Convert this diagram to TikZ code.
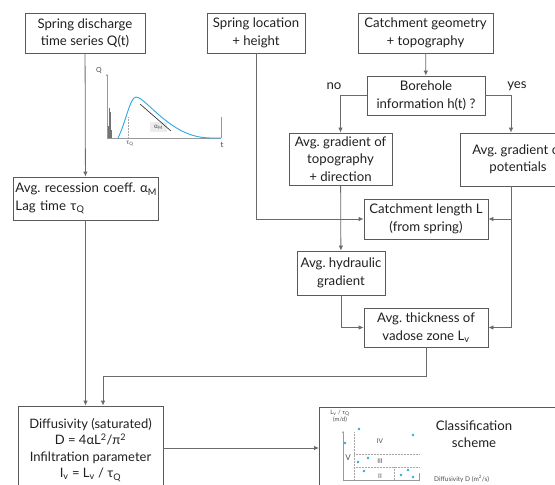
\documentclass[tikz,border=0pt]{standalone}
\usepackage{fontspec}
\setmainfont{Lato}
\usetikzlibrary{arrows.meta}
\definecolor{boxgray}{HTML}{5A5A5A}
\definecolor{linegray}{HTML}{6A6A6A}
\definecolor{textblack}{HTML}{231F20}
\definecolor{curveblue}{HTML}{29ABE2}
\tikzset{
  flowbox/.style={draw=boxgray, line width=0.8pt, align=center, text=textblack, font=\fontsize{13.2}{17.5}\selectfont, inner sep=0pt},
  flowline/.style={draw=linegray, line width=0.8pt},
  flowarrow/.style={flowline, -{Latex[length=5pt,width=4.5pt]}},
  smalltext/.style={text=textblack!80, font=\fontsize{6.5}{7}\selectfont, inner sep=0pt},
  dotline/.style={draw=gray!70, line width=0.5pt, densely dotted},
}
\frenchspacing
\begin{document}
\begin{tikzpicture}[x=1pt,y=-1pt]
\useasboundingbox (0,0) rectangle (555,485);
\clip (0,0) rectangle (555,485);

\node[flowbox, minimum width=120, minimum height=40] (qts) at (85,33) {Spring discharge\\time series Q(t)};
\node[flowbox, minimum width=98, minimum height=40] (loc) at (256,33) {Spring location\\+ height};
\node[flowbox, minimum width=135, minimum height=40] (geo) at (425.5,33) {Catchment geometry\\+ topography};
\node[flowbox, minimum width=118, minimum height=39] (bore) at (426,95.5) {Borehole\\information h(t) ?};
\node[flowbox, minimum width=103, minimum height=52] (topo) at (340.5,159) {Avg. gradient of\\topography\\+ direction};
\node[flowbox, minimum width=116, minimum height=53] (pot) at (518,159.5) {Avg. gradient of\\potentials};
\node[flowbox, minimum width=124, minimum height=40] (len) at (426,219) {Catchment length L\\(from spring)};
\node[flowbox, minimum width=88, minimum height=44] (hyd) at (341,273) {Avg. hydraulic\\gradient};
\node[flowbox, minimum width=124, minimum height=39] (vad) at (426,327.5) {Avg. thickness of\\vadose zone L\textsubscript{v}};
\node[flowbox, align=left, text width=140, inner xsep=2.5, minimum height=43] (rec) at (85.5,198.5) {\mbox{Avg. recession coeff. α\textsubscript{M}}\\Lag time τ\textsubscript{Q}};
\node[flowbox, minimum width=145, minimum height=88, font=\fontsize{13}{16.5}\selectfont] (diff) at (90.5,450) {Diffusivity (saturated)\\D = 4αL\textsuperscript{2}/π\textsuperscript{2}\\Infiltration parameter\\I\textsubscript{v} = L\textsubscript{v} / τ\textsubscript{Q}};
\node[flowbox, anchor=north west, minimum width=260, minimum height=100] (cls) at (319,407) {};
\node[text=textblack, font=\fontsize{13.2}{16.5}\selectfont, align=center, inner sep=0pt] (clstxt) at (474,434) {Classification\\scheme};

\node[text=textblack, font=\fontsize{13.2}{16}\selectfont, inner sep=0pt] (no) at (334,86) {no};
\node[text=textblack, font=\fontsize{13.2}{16}\selectfont, inner sep=0pt] (yes) at (517,86) {yes};

\coordinate (potdown) at (511,186);
\coordinate (turn) at (103,376);
\draw[flowarrow] (qts) -- (rec);
\draw[flowarrow] (loc.south) |- (len.west);
\draw[flowarrow] (geo) -- (bore);
\draw[flowarrow] (bore.west) -| (topo.north);
\draw[flowarrow] (bore.east) -| (potdown |- pot.north);
\draw[flowarrow] (potdown) |- (len.east);
\draw[flowarrow] (potdown) |- (vad.east);
\draw[flowarrow] (topo) -- (hyd);
\draw[flowarrow] (hyd.south) |- (vad.west);
\draw[flowarrow] (vad.south) |- (turn) -- (turn |- diff.north);
\draw[flowarrow] (rec.south) -- (rec.south |- diff.north);
\draw[flowarrow] (diff.east |- 0,448) -- (cls.west |- 0,448);

\draw[draw=gray!80, line width=0.5pt, -{Stealth[length=2pt,width=2pt]}] (107,138) -- (107,74);
\draw[draw=gray!80, line width=0.5pt] (107,138) -- (221,138);
\draw[draw=gray!80, line width=0.5pt] (221,138) -- (221,117);
\node[smalltext, font=\fontsize{7}{8}\selectfont] (qlab) at (99,70) {Q};
\node[smalltext, font=\fontsize{8}{8}\selectfont] (tlab) at (222,145) {t};
\foreach \x/\h in {108/126,109/108,110/112,111/130}
  \draw[gray!90!black, line width=0.7pt] (\x,138) -- (\x,\h);
\draw[dotline] (128,117) -- (128,138);
\node[smalltext] (taulab) at (130,144) {τ\textsubscript{Q}};
\node[fill=gray!15, minimum width=17, minimum height=10, inner sep=0pt] (alph) at (158.5,127) {};
\node[smalltext] at (alph) {α\textsubscript{M}};
\draw[curveblue, line width=0.9pt] (118,138) .. controls (126,122) and (130,97) .. (136,97) .. controls (143,97) and (158,118) .. (180,130) .. controls (197,139) and (208,138) .. (221,138);
\draw[black!85, line width=0.6pt] (140,104) -- (171,131);

\draw[draw=gray!80, line width=0.5pt, -{Stealth[length=2pt,width=2pt]}] (343,480) -- (343,431);
\draw[draw=gray!80, line width=0.5pt] (343,480) -- (419,480) -- (419,473);
\draw[dotline] (354,432) -- (354,480);
\draw[dotline] (354,454) -- (420,454);
\draw[dotline] (354,467) -- (420,467);
\draw[dotline] (394,467) -- (394,480);
\node[smalltext, align=center, font=\fontsize{6}{7.5}\selectfont] (axy) at (340,416) {L\textsubscript{v} / τ\textsubscript{Q}\\(m/d)};
\node[smalltext, anchor=west] (axx) at (434,479) {Diffusivity D (m\textsuperscript{2}/s)};
\node[smalltext] (c4) at (380,441) {IV};
\node[smalltext] (c3) at (380,461) {III};
\node[smalltext] (c2) at (380,476) {II};
\node[smalltext, font=\fontsize{8}{8}\selectfont] (c5) at (348,458) {V};
\foreach \x/\y in {359/429,345/443,413/435,358/462,368/458,364/471,401/475,408/470,413/477}
  \fill[curveblue] (\x,\y) circle (1.3);
\end{tikzpicture}
\end{document}
